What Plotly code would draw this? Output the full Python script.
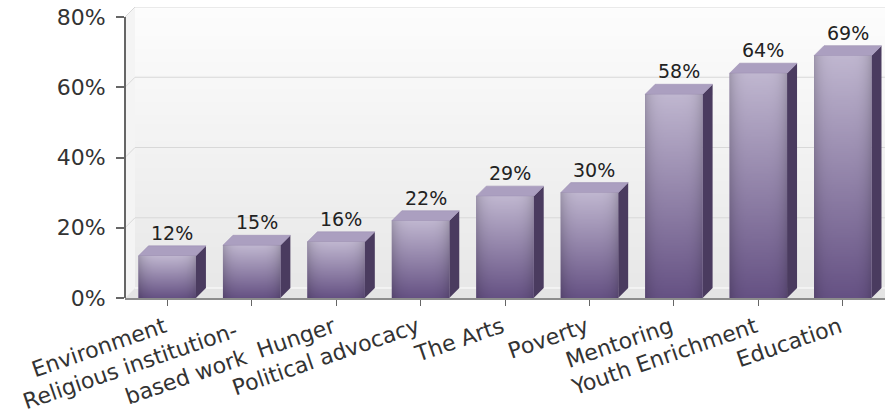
import base64
import struct
import zlib

import numpy as np
import plotly.graph_objects as go

# ---- data -------------------------------------------------------------
NBSP2 = "\u00a0\u00a0"   # pads the wrapped label so its two lines sit left of the tick
categories = [
    "Environment",
    "Religious institution-" + NBSP2 + "<br>based work" + NBSP2,
    "Hunger",
    "Political advocacy",
    "The Arts",
    "Poverty",
    "Mentoring",
    "Youth Enrichment",
    "Education",
]
shares = [12, 15, 16, 22, 29, 30, 58, 64, 69]
y_ticks = [0, 20, 40, 60, 80]
y_tick_text = [f"{v}%" for v in y_ticks]

# ---- geometry / style -------------------------------------------------
FONT = "DejaVu Sans"
BAR_W = 0.68
PLOT_L, PLOT_R, PLOT_T, PLOT_B = 125, 885, 7, 298
DEPTH_PX = 10                      # pseudo-3D depth offset (right / up)
Y_MAX = 80
px_per_x = (PLOT_R - PLOT_L) / len(categories)
px_per_y = (PLOT_B - PLOT_T - DEPTH_PX) / Y_MAX
DX = DEPTH_PX / px_per_x           # depth in x data units
DY = DEPTH_PX / px_per_y           # depth in y data units
X0, X1 = -0.5, len(categories) - 0.5


def png_uri(rgb):
    """Encode an HxWx3 uint8 array as a PNG data URI."""
    h, w, _ = rgb.shape
    raw = b"".join(b"\x00" + rgb[r].tobytes() for r in range(h))

    def chunk(tag, data):
        c = struct.pack(">I", len(data)) + tag + data
        return c + struct.pack(">I", zlib.crc32(tag + data) & 0xFFFFFFFF)

    png = (b"\x89PNG\r\n\x1a\n"
           + chunk(b"IHDR", struct.pack(">IIBBBBB", w, h, 8, 2, 0, 0, 0))
           + chunk(b"IDAT", zlib.compress(raw, 9))
           + chunk(b"IEND", b""))
    return "data:image/png;base64," + base64.b64encode(png).decode()


def vertical_gradient(top, bottom, h=128, w=64, edge_dark=0.0):
    t = np.linspace(0, 1, h)[:, None, None]
    col = np.array(top, float) * (1 - t) + np.array(bottom, float) * t
    col = np.repeat(col, w, axis=1)
    if edge_dark:
        u = np.linspace(-1, 1, w)
        shade = 1 - edge_dark * np.abs(u) ** 4
        col = col * shade[None, :, None]
    return np.clip(col, 0, 255).astype(np.uint8)


front_img = png_uri(vertical_gradient((192, 183, 208), (102, 82, 132), edge_dark=0.16))
wall_img = png_uri(vertical_gradient((253, 253, 253), (232, 232, 232), h=64, w=8))


def path(points):
    return "M " + " L ".join(f"{x:.5f},{y:.5f}" for x, y in points) + " Z"


shapes = []
images = []

# back wall (image sits below the grid / "between" layer)
images.append(dict(source=wall_img, xref="x", yref="y", x=X0 + DX, y=Y_MAX + DY,
                   sizex=X1 - X0, sizey=Y_MAX, xanchor="left", yanchor="top",
                   sizing="stretch", layer="below"))
# left wall
shapes.append(dict(type="path", xref="x", yref="y", layer="between",
                   path=path([(X0, 0), (X0 + DX, DY), (X0 + DX, Y_MAX + DY), (X0, Y_MAX)]),
                   fillcolor="#f4f4f4", line=dict(width=0)))
# floor
shapes.append(dict(type="path", xref="x", yref="y", layer="between",
                   path=path([(X0, 0), (X0 + DX, DY), (X1 + 1, DY), (X1 + 1, 0)]),
                   fillcolor="#e4e4e4", line=dict(width=0)))
shapes.append(dict(type="line", xref="x", yref="y", layer="between",
                   x0=X0 + DX, x1=X1 + 1, y0=DY, y1=DY,
                   line=dict(color="#f7f7f7", width=1.5)))
# grid lines on back wall + connectors on left wall
for v in y_ticks[1:]:
    shapes.append(dict(type="line", xref="x", yref="y", layer="between",
                       x0=X0 + DX, x1=X1 + 1, y0=v + DY, y1=v + DY,
                       line=dict(color="#d8d8d8", width=1.2)))
    shapes.append(dict(type="line", xref="x", yref="y", layer="between",
                       x0=X0, x1=X0 + DX, y0=v, y1=v + DY,
                       line=dict(color="#d8d8d8", width=1)))

# bar side and top faces, front-face gradients
for i, v in enumerate(shares):
    xl, xr = i - BAR_W / 2, i + BAR_W / 2
    shapes.append(dict(type="path", xref="x", yref="y", layer="between",
                       path=path([(xr, 0), (xr + DX, DY), (xr + DX, v + DY), (xr, v)]),
                       fillcolor="#4a3b5f", line=dict(width=0)))
    shapes.append(dict(type="path", xref="x", yref="y", layer="between",
                       path=path([(xl, v), (xl + DX, v + DY), (xr + DX, v + DY), (xr, v)]),
                       fillcolor="#ab9fc0", line=dict(color="#9d90b3", width=0.6)))
    images.append(dict(source=front_img, xref="x", yref="y", x=xl, y=v,
                       sizex=BAR_W, sizey=v, xanchor="left", yanchor="top",
                       sizing="stretch", layer="above"))

# y axis line
shapes.append(dict(type="line", xref="paper", yref="y", layer="above",
                   x0=0, x1=0, y0=0, y1=Y_MAX, line=dict(color="#666666", width=2)))

annotations = [
    dict(x=i + DX / 2, y=v + DY, xref="x", yref="y", text=f"{v}%", showarrow=False,
         yanchor="bottom", yshift=0, font=dict(family=FONT, size=19, color="#222222"))
    for i, v in enumerate(shares)
]

fig = go.Figure(go.Bar(
    x=list(range(len(categories))), y=shares, width=BAR_W,
    marker=dict(color="#7d6a98", line=dict(width=0)),
    hoverinfo="skip",
))

fig.update_layout(
    width=885, height=419,
    margin=dict(l=PLOT_L, r=885 - PLOT_R, t=PLOT_T, b=419 - PLOT_B, autoexpand=False),
    paper_bgcolor="white", plot_bgcolor="white",
    showlegend=False,
    shapes=shapes, images=images, annotations=annotations,
    xaxis=dict(
        range=[X0, X1], tickvals=list(range(len(categories))), ticktext=categories,
        tickangle=-19, showgrid=False, zeroline=False,
        showline=True, linecolor="#8c8c8c", linewidth=2,
        ticks="outside", ticklen=6, tickcolor="#666666", tickwidth=1,
        ticklabelshift=-3,
        tickfont=dict(family=FONT, size=22, color="#333333"), automargin=False,
    ),
    yaxis=dict(
        range=[0, Y_MAX + DY], tickvals=y_ticks, ticktext=y_tick_text,
        showgrid=False, zeroline=False, showline=False,
        ticks="outside", ticklen=8, tickcolor="#666666", tickwidth=2,
        ticklabelstandoff=6,
        tickfont=dict(family=FONT, size=22, color="#333333"), automargin=False,
    ),
)

fig.write_html("out.html")
